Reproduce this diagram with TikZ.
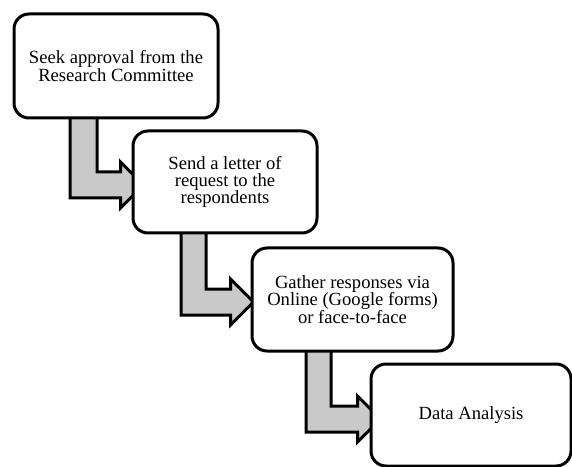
\documentclass[tikz,border=0pt]{standalone}
\usepackage{fontspec}
\setmainfont{Liberation Serif}
\usetikzlibrary{backgrounds,calc}
\tikzset{
  stepbox/.style={draw=black, line width=3pt, fill=white, rounded corners=15pt,
    align=center, inner sep=0pt,
    font=\fontsize{18.6}{17.2}\selectfont},
  blockarrow/.style={draw=black, line width=3pt, fill=black!21, line join=miter}
}
\begin{document}
\begin{tikzpicture}[x=1pt,y=1pt]
\useasboundingbox (0,0) rectangle (572,466);
\node[stepbox, minimum width=204, minimum height=104] (b1) at (116,400)
  {Seek approval from the\\Research Committee};
\node[stepbox, minimum width=184, minimum height=102] (b2) at (225,284)
  {Send a letter of\\request to the\\respondents};
\node[stepbox, minimum width=201, minimum height=103] (b3) at (352.5,166.5)
  {Gather responses via\\Online (Google forms)\\or face-to-face};
\node[stepbox, minimum width=200, minimum height=102] (b4) at (471,51)
  {Data Analysis};
\begin{pgfonlayer}{background}
\draw[blockarrow] let \p1=(b1.south), \p2=(b2.west) in
  (\x1-46pt,\y1+8pt) -- (\x1-46pt,\y2-16pt) -- (\x2-11pt,\y2-16pt)
  -- (\x2-11pt,\y2-26pt) -- (\x2+12pt,\y2-3pt) -- (\x2-11pt,\y2+20pt)
  -- (\x2-11pt,\y2+10pt) -- (\x1-19pt,\y2+10pt) -- (\x1-19pt,\y1+8pt) -- cycle;
\draw[blockarrow] let \p1=(b2.south), \p2=(b3.west) in
  (\x1-44pt,\y1+8pt) -- (\x1-44pt,\y2-15.5pt) -- (\x2-20pt,\y2-15.5pt)
  -- (\x2-20pt,\y2-25.5pt) -- (\x2+3pt,\y2-2.5pt) -- (\x2-20pt,\y2+20.5pt)
  -- (\x2-20pt,\y2+10.5pt) -- (\x1-19pt,\y2+10.5pt) -- (\x1-19pt,\y1+8pt) -- cycle;
\draw[blockarrow] let \p1=(b3.south), \p2=(b4.west) in
  (\x1-46.5pt,\y1+8pt) -- (\x1-46.5pt,\y2-17pt) -- (\x2-12pt,\y2-17pt)
  -- (\x2-12pt,\y2-27pt) -- (\x2+11pt,\y2-4pt) -- (\x2-12pt,\y2+19pt)
  -- (\x2-12pt,\y2+9pt) -- (\x1-21.5pt,\y2+9pt) -- (\x1-21.5pt,\y1+8pt) -- cycle;
\end{pgfonlayer}
\end{tikzpicture}
\end{document}
